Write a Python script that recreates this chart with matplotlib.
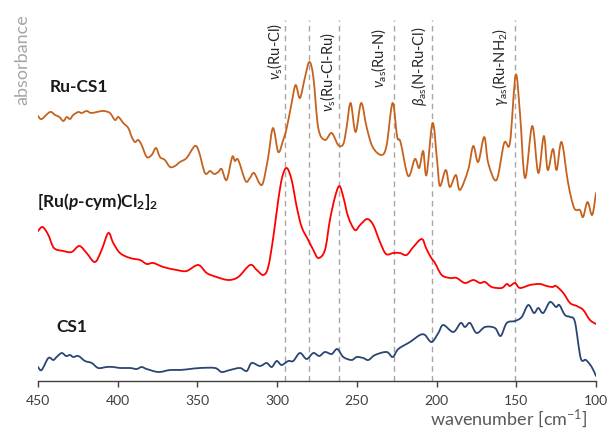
import numpy as np
import matplotlib
matplotlib.use("Agg")
import matplotlib.pyplot as plt
from matplotlib.path import Path
from matplotlib.patches import PathPatch

# ---------------- data (wavenumber in cm-1, absorbance in arbitrary stacked units) -------------
ru_cs1_wn = [450.0, 447.7, 442.5, 439.3, 436.6, 434.1, 432.0, 429.9, 427.9, 424.7, 422.6, 419.5,
             416.8, 413.2, 409.0, 404.9, 401.7, 399.6, 396.5, 393.4, 391.2, 389.2, 387.1, 385.0,
             381.8, 378.7, 376.0, 373.5, 370.4, 367.2, 364.1, 361.0, 356.8, 351.6, 349.0, 345.3,
             342.1, 339.5, 336.9, 334.8, 331.7, 328.2, 326.5, 324.4, 319.8, 317.1, 314.5, 310.8,
             308.7, 305.6, 302.6, 299.3, 296.2, 294.0, 290.9, 288.4, 285.7, 282.5, 279.8, 277.3,
             274.2, 270.0, 265.8, 261.7, 258.5, 256.4, 253.9, 250.8, 247.3, 243.9, 240.1, 234.5,
             231.3, 227.6, 224.7, 222.6, 217.8, 213.6, 210.9, 208.4, 206.3, 202.5, 199.6, 197.9,
             194.2, 191.7, 187.9, 185.4, 180.2, 177.0, 173.9, 170.1, 167.6, 162.4, 157.6, 154.0,
             150.4, 147.7, 144.5, 140.0, 136.2, 132.7, 130.3, 127.0, 124.7, 121.6, 117.5, 113.7,
             110.1, 108.1, 105.3, 102.4, 100.0]
ru_cs1_abs = [2.65, 2.62, 2.69, 2.66, 2.64, 2.60, 2.64, 2.62, 2.66, 2.69, 2.68, 2.70,
              2.68, 2.69, 2.70, 2.68, 2.61, 2.64, 2.58, 2.53, 2.44, 2.39, 2.41, 2.36,
              2.24, 2.26, 2.33, 2.24, 2.21, 2.14, 2.15, 2.19, 2.23, 2.35, 2.29, 2.08,
              2.10, 2.07, 2.09, 2.12, 2.01, 2.24, 2.20, 2.21, 2.00, 2.03, 2.08, 1.97,
              1.99, 2.24, 2.53, 2.29, 2.41, 2.53, 2.78, 2.96, 2.83, 3.04, 3.19, 3.04,
              2.53, 2.41, 2.48, 2.36, 2.37, 2.54, 2.78, 2.49, 2.78, 2.54, 2.34, 2.26,
              2.36, 2.78, 2.44, 2.39, 2.05, 2.22, 2.13, 2.30, 2.06, 2.58, 2.19, 1.95,
              2.11, 1.94, 2.06, 1.91, 2.11, 2.35, 2.19, 2.44, 2.18, 2.01, 2.38, 2.38,
              3.06, 2.68, 2.03, 2.55, 2.08, 2.45, 2.11, 2.32, 2.11, 2.39, 1.98, 1.73,
              1.71, 1.64, 1.79, 1.66, 1.88]

ru_dimer_wn = [450.0, 447.1, 443.5, 440.0, 434.1, 428.9, 424.1, 419.5, 414.3, 410.1, 405.9, 402.8,
               398.6, 392.3, 386.0, 381.8, 377.7, 371.4, 363.0, 356.8, 349.5, 344.2, 338.0, 330.6,
               324.4, 317.0, 312.8, 308.7, 305.6, 302.4, 299.3, 296.8, 294.0, 290.9, 287.7, 284.6,
               280.5, 277.3, 274.2, 270.0, 266.9, 263.7, 261.0, 258.5, 255.4, 251.2, 248.0, 243.5,
               239.7, 235.5, 231.7, 227.2, 223.0, 218.8, 214.6, 209.3, 206.6, 203.7, 201.0, 196.8,
               191.6, 187.4, 182.2, 177.0, 172.8, 169.6, 165.4, 159.2, 156.0, 154.0, 150.8, 147.7,
               141.4, 135.2, 131.0, 127.2, 125.1, 120.5, 116.3, 112.1, 108.0, 103.8, 100.0]
ru_dimer_abs = [1.50, 1.54, 1.46, 1.33, 1.30, 1.29, 1.35, 1.28, 1.19, 1.31, 1.48, 1.38,
                1.28, 1.23, 1.21, 1.17, 1.18, 1.14, 1.11, 1.10, 1.16, 1.08, 1.04, 1.01,
                1.04, 1.16, 1.11, 1.06, 1.14, 1.44, 1.81, 2.04, 2.13, 2.01, 1.74, 1.54,
                1.41, 1.31, 1.23, 1.31, 1.61, 1.84, 1.95, 1.84, 1.64, 1.51, 1.56, 1.62,
                1.56, 1.39, 1.27, 1.28, 1.28, 1.26, 1.34, 1.42, 1.33, 1.24, 1.18, 1.06,
                1.03, 1.03, 0.98, 1.01, 0.98, 0.99, 0.94, 0.93, 0.97, 0.95, 0.98, 0.93,
                0.96, 0.97, 0.95, 0.94, 0.95, 0.88, 0.78, 0.75, 0.71, 0.61, 0.57]

cs1_wn = [450.0, 447.7, 443.5, 440.4, 438.3, 435.1, 432.4, 429.9, 427.9, 424.7, 420.5, 416.3,
          412.2, 406.9, 402.8, 398.6, 392.3, 388.1, 385.0, 381.8, 374.5, 367.2, 361.0, 354.7,
          348.4, 339.0, 334.8, 329.6, 323.3, 319.1, 316.0, 310.8, 306.6, 303.4, 300.3, 297.2,
          293.0, 289.9, 285.7, 281.5, 277.3, 273.6, 270.0, 265.8, 262.3, 258.5, 253.3, 250.1,
          246.0, 242.8, 238.6, 231.3, 227.5, 224.0, 216.7, 210.4, 207.3, 203.1, 198.9, 195.8,
          189.5, 184.9, 182.2, 179.0, 174.9, 169.6, 163.4, 159.8, 156.0, 150.8, 146.6, 142.5,
          138.9, 136.2, 133.1, 128.9, 125.1, 123.0, 119.5, 116.3, 113.2, 109.6, 106.3, 102.7,
          100.0]
cs1_abs = [0.14, 0.11, 0.23, 0.21, 0.24, 0.28, 0.25, 0.26, 0.24, 0.25, 0.20, 0.18,
           0.13, 0.14, 0.14, 0.13, 0.13, 0.12, 0.14, 0.12, 0.09, 0.11, 0.11, 0.12,
           0.13, 0.13, 0.09, 0.11, 0.13, 0.10, 0.18, 0.15, 0.18, 0.14, 0.20, 0.16,
           0.20, 0.20, 0.28, 0.22, 0.28, 0.25, 0.29, 0.27, 0.32, 0.24, 0.21, 0.24,
           0.23, 0.21, 0.26, 0.29, 0.24, 0.32, 0.39, 0.46, 0.46, 0.39, 0.48, 0.56,
           0.49, 0.58, 0.54, 0.58, 0.48, 0.54, 0.53, 0.45, 0.58, 0.60, 0.64, 0.76,
           0.68, 0.73, 0.68, 0.79, 0.74, 0.76, 0.66, 0.64, 0.59, 0.23, 0.21, 0.14,
           0.05]

band_positions = [295, 280, 261, 227, 203, 151]
band_labels = [r"$\nu_\mathrm{s}$(Ru-Cl)", r"$\nu_\mathrm{s}$(Ru-Cl-Ru)", r"$\nu_\mathrm{as}$(Ru-N)",
               r"$\beta_\mathrm{as}$(N-Ru-Cl)", r"$\gamma_\mathrm{as}$(Ru-NH$_2$)"]
band_label_x = [301.4, 268.2, 236.3, 211.2, 160.3]

series_names = ["Ru-CS1", r"[Ru($\bfit{p}$-cym)Cl$_\mathbf{2}$]$_\mathbf{2}$", "CS1"]
xticks = [450, 400, 350, 300, 250, 200, 150, 100]

# ---------------- styling ----------------
FONT = "Lato"
plt.rcParams["font.family"] = [FONT, "DejaVu Sans"]
plt.rcParams["mathtext.fontset"] = "custom"
plt.rcParams["mathtext.rm"] = FONT
plt.rcParams["mathtext.it"] = FONT + ":italic"
plt.rcParams["mathtext.bf"] = FONT + ":bold"
plt.rcParams["mathtext.bfit"] = FONT + ":bold:italic"
plt.rcParams["mathtext.fallback"] = "stixsans"

W, H = 607, 432
fig = plt.figure(figsize=(W / 100, H / 100), dpi=100)
ax = fig.add_axes([38 / W, (H - 381) / H, 558 / W, 366 / H])
ax.set_xlim(450, 100)
ax.set_ylim(0, 3.66)


def smooth_path(x, y):
    P = np.column_stack([x, y]).astype(float)
    Pm = np.vstack([P[0], P, P[-1]])
    verts = [P[0]]
    codes = [Path.MOVETO]
    for i in range(len(P) - 1):
        p0, p1, p2, p3 = Pm[i], Pm[i + 1], Pm[i + 2], Pm[i + 3]
        c1 = p1 + (p2 - p0) / 6.0
        c2 = p2 - (p3 - p1) / 6.0
        verts += [c1, c2, p2]
        codes += [Path.CURVE4] * 3
    return Path(verts, codes)


# dashed band markers
for b in band_positions:
    ax.plot([b, b], [0, 3.61], ls=(0, (4, 3)), color="#A6A6A6", lw=1.0, zorder=1)

for xs, ys, col in [(ru_cs1_wn, ru_cs1_abs, "#C5621E"),
                    (ru_dimer_wn, ru_dimer_abs, "#FF0000"),
                    (cs1_wn, cs1_abs, "#2B4573")]:
    ax.add_patch(PathPatch(smooth_path(xs, ys), fill=False, edgecolor=col, lw=1.3, zorder=3,
                           capstyle="round", joinstyle="round"))

# band labels
label_tops = [3.58, 3.49, 3.53, 3.54, 3.53]
for x, t, top in zip(band_label_x, band_labels, label_tops):
    ax.text(x, top, t, rotation=90, ha="center", va="top", fontsize=10.5, color="#262626")

# series labels
ax.text(442.5, 2.94, series_names[0], ha="left", va="center", fontsize=12.5,
        fontweight="bold", color="#1A1A1A")
ax.text(450.5, 1.80, series_names[1], ha="left", va="center", fontsize=12.5,
        fontweight="bold", color="#1A1A1A")
ax.text(438.3, 0.54, series_names[2], ha="left", va="center", fontsize=12.5,
        fontweight="bold", color="#1A1A1A")

# axes styling
for s in ["top", "right", "left"]:
    ax.spines[s].set_visible(False)
ax.spines["bottom"].set_color("#404040")
ax.spines["bottom"].set_linewidth(1.0)
ax.set_yticks([])
ax.set_xticks(xticks)
ax.set_xticklabels([str(v) for v in xticks])
ax.tick_params(axis="x", direction="out", length=4, width=1.0, color="#404040",
               labelsize=10, labelcolor="#404040", pad=6)

fig.text(588 / W, 1 - 425 / H, r"wavenumber [cm$^{-1}$]", ha="right", va="baseline",
         fontsize=13, color="#595959")
fig.text(22 / W, 1 - 14 / H, "absorbance", rotation=90, ha="center", va="top",
         fontsize=13, color="#A6A6A6")

fig.savefig("out.png", dpi=100)
